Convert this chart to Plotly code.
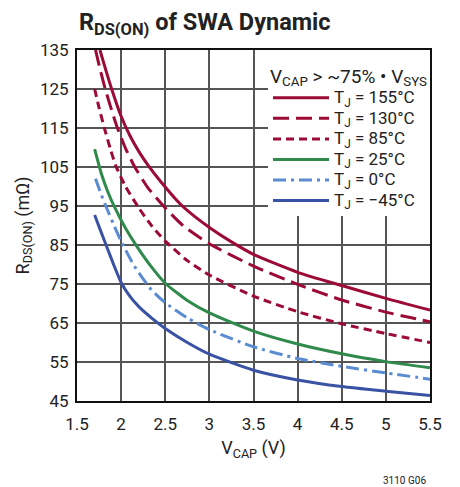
import plotly.graph_objects as go

# ---- data ----
v_155 = [1.76, 1.83, 1.90, 2.0, 2.1, 2.2, 2.3, 2.45, 2.67, 2.85, 3.0, 3.25, 3.5, 4.0, 4.5, 5.0, 5.5]
r_155 = [135, 129.6, 124.5, 118, 113, 109, 105.6, 101.2, 95.5, 92, 89.5, 85.8, 82.6, 78, 74.6, 71.3, 68.3]

v_130 = [1.71, 1.76, 1.82, 1.9, 1.955, 2.05, 2.15, 2.3, 2.48, 2.7, 3.0, 3.5, 4.0, 4.5, 5.0, 5.5]
r_130 = [135, 130.2, 125, 119, 115.2, 109.8, 105.2, 99.8, 95, 90, 85.3, 79.6, 74.9, 70.9, 67.8, 65.3]

v_85 = [1.70, 1.75, 1.81, 1.88, 1.94, 2.05, 2.2, 2.35, 2.5, 2.75, 3.0, 3.5, 4.0, 4.5, 5.0, 5.5]
r_85 = [125, 120.2, 115, 109.5, 105.3, 100, 94.5, 89.8, 86, 81, 77.3, 71.9, 67.9, 64.8, 62.3, 60]

v_25 = [1.70, 1.78, 1.85, 1.93, 2.05, 2.18, 2.35, 2.5, 2.75, 3.0, 3.5, 4.0, 4.5, 5.0, 5.5]
r_25 = [109.6, 103, 98.6, 94.5, 89.3, 84.6, 79.2, 75.2, 70.8, 67.6, 62.9, 59.6, 57.1, 55.1, 53.5]

v_0 = [1.71, 1.77, 1.83, 1.92, 2.0, 2.15, 2.34, 2.5, 2.75, 3.0, 3.5, 4.0, 4.5, 5.0, 5.5]
r_0 = [102, 98.2, 94.8, 90, 86, 79.6, 73.6, 70.2, 66.3, 63.3, 58.9, 55.9, 53.9, 52.2, 50.6]

v_m45 = [1.70, 1.77, 1.85, 1.92, 2.0, 2.1, 2.2, 2.35, 2.5, 2.75, 3.0, 3.5, 4.0, 4.5, 5.0, 5.5]
r_m45 = [92.7, 88.5, 83.8, 79.7, 75.4, 71.8, 69.2, 66.2, 63.6, 60.0, 57.0, 52.9, 50.4, 48.7, 47.5, 46.4]

series_names = ["T<sub>J</sub> = 155°C", "T<sub>J</sub> = 130°C", "T<sub>J</sub> = 85°C",
                "T<sub>J</sub> = 25°C", "T<sub>J</sub> = 0°C", "T<sub>J</sub> = −45°C"]
legend_title = "V<sub>CAP</sub> > ~75% • V<sub>SYS</sub>"

x_ticks = [1.5, 2, 2.5, 3, 3.5, 4, 4.5, 5, 5.5]
x_tick_labels = ["1.5", "2", "2.5", "3", "3.5", "4", "4.5", "5", "5.5"]
y_ticks = [45, 55, 65, 75, 85, 95, 105, 115, 125, 135]

# ---- styling ----
RED = "#9c0a36"
GREEN = "#2f8a4b"
LBLUE = "#5b8cd2"
BLUE = "#3a52a3"
FONT = "Roboto"
TXT = "#222"
PAD = "\u00a0\u00a0\u00a0"

def big(s, px):
    return '<span style="font-size:%dpx">%s</span>' % (px, s)

styles = [
    dict(color=RED, width=3, dash="solid"),
    dict(color=RED, width=3, dash="16px,7px"),
    dict(color=RED, width=3, dash="8px,5px"),
    dict(color=GREEN, width=3, dash="solid"),
    dict(color=LBLUE, width=3, dash="13px,5px,3px,5px"),
    dict(color=BLUE, width=3, dash="solid"),
]
data = [(v_155, r_155), (v_130, r_130), (v_85, r_85), (v_25, r_25), (v_0, r_0), (v_m45, r_m45)]

fig = go.Figure()
for (vx, ry), name, st in zip(data, series_names, styles):
    fig.add_trace(go.Scatter(x=vx, y=ry, mode="lines", name=big(name, 17) + PAD,
                             line=dict(shape="spline", smoothing=0.6, **st)))

# page is drawn with an 8px body offset; margins compensate
fig.update_layout(
    width=460, height=487,
    margin=dict(l=69, r=38, t=42, b=94),
    paper_bgcolor="white", plot_bgcolor="white",
    font=dict(family=FONT, size=17, color=TXT),
    showlegend=True,
    legend=dict(
        x=1.0, y=1.0, xanchor="right", yanchor="top",
        xref="paper", yref="paper",
        bgcolor="white", borderwidth=0,
        font=dict(family=FONT, size=13.5, color=TXT),
        title=dict(text=big(legend_title, 19), font=dict(family=FONT, size=25, color=TXT)),
        itemwidth=56, tracegroupgap=0,
    ),
    annotations=[
        dict(text="<b>R<sub>DS(ON)</sub> of SWA Dynamic</b>", xref="paper", yref="paper",
             x=0, y=1.0 + 27 / 351, xanchor="left", yanchor="middle", showarrow=False,
             font=dict(family=FONT, size=23.5, color=TXT)),
        dict(text="3110 G06", xref="paper", yref="paper", x=1.0 - 2 / 353, y=-79 / 351,
             xanchor="right", yanchor="middle", showarrow=False,
             font=dict(family=FONT, size=10, color=TXT)),
    ],
)

fig.update_xaxes(
    range=[1.5, 5.5], tickvals=x_ticks, ticktext=x_tick_labels,
    showgrid=True, gridcolor="#555", gridwidth=1.5,
    showline=True, linecolor="#111", linewidth=2, mirror=True,
    ticks="", ticklabelstandoff=7, zeroline=False,
    title=dict(text="V<sub>CAP</sub> (V)", font=dict(family=FONT, size=18), standoff=8),
)
fig.update_yaxes(
    range=[45, 135], tickvals=y_ticks,
    showgrid=True, gridcolor="#555", gridwidth=1.5,
    showline=True, linecolor="#111", linewidth=2, mirror=True,
    ticks="", ticklabelstandoff=3, zeroline=False,
    title=dict(text="R<sub>DS(ON)</sub> (mΩ)", font=dict(family=FONT, size=18), standoff=6),
)

fig.write_html("out.html")
